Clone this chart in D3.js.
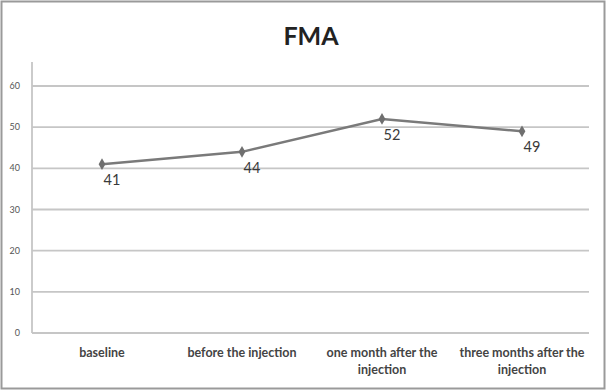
<!DOCTYPE html>
<html>
<head>
<meta charset="utf-8">
<script src="https://cdn.jsdelivr.net/npm/d3@7"></script>
<style>
  body { margin: 0; background: #fff; }
  text { font-family: Lato, "Open Sans", sans-serif; }
</style>
</head>
<body>
<svg id="chart" width="608" height="391"></svg>
<script>
const categories = [["baseline"], ["before the injection"], ["one month after the", "injection"], ["three months after the", "injection"]];
const values = [41, 44, 52, 49];
const yTicks = [0, 10, 20, 30, 40, 50, 60];

const width = 608, height = 391;
const margin = { top: 62, right: 16, bottom: 58, left: 32 };
const innerWidth = width - margin.left - margin.right;
const innerHeight = height - margin.top - margin.bottom;

const svg = d3.select('#chart');

// outer frame
svg.append('rect').attr('x', 1.5).attr('y', 1.5).attr('width', width - 5).attr('height', height - 4)
  .attr('fill', '#fff').attr('stroke', '#9a9a9a').attr('stroke-width', 2);

svg.append('text').text('FMA').attr('x', 311).attr('y', 45)
  .attr('text-anchor', 'middle').attr('font-size', 25).attr('font-weight', 'bold').attr('fill', '#222');

const g = svg.append('g').attr('transform', `translate(${margin.left},${margin.top})`);

const xScale = d3.scaleBand().domain(d3.range(categories.length)).range([0, 560]);
const yScale = d3.scaleLinear().domain([0, 60]).range([innerHeight, 24]);

// gridlines
g.selectAll('.grid').data(yTicks).join('line').attr('class', 'grid')
  .attr('x1', 0).attr('x2', 557)
  .attr('y1', d => yScale(d)).attr('y2', d => yScale(d))
  .attr('stroke', '#c6c6c6').attr('stroke-width', 1.8);

// y axis line
g.append('line').attr('x1', 0).attr('x2', 0).attr('y1', 0).attr('y2', innerHeight)
  .attr('stroke', '#c6c6c6').attr('stroke-width', 1.8);

g.selectAll('.ytick').data(yTicks).join('text').attr('class', 'ytick')
  .attr('x', -12).attr('y', d => yScale(d) + 3)
  .attr('text-anchor', 'end').attr('font-size', 9).attr('fill', '#555')
  .text(d => d);

// category labels
const cat = g.selectAll('.cat').data(categories).join('text').attr('class', 'cat')
  .attr('text-anchor', 'middle').attr('font-size', 12.5).attr('font-weight', 'bold').attr('fill', '#444')
  .attr('transform', (d, i) => `translate(${xScale(i) + xScale.bandwidth() / 2},${innerHeight + 24})`);
cat.selectAll('tspan').data(d => d).join('tspan')
  .attr('x', 0).attr('dy', (d, i) => i === 0 ? 0 : 17).text(d => d);

// line
const cx = i => xScale(i) + xScale.bandwidth() / 2;
const line = d3.line().x((d, i) => cx(i)).y(d => yScale(d));
g.append('path').datum(values).attr('d', line)
  .attr('fill', 'none').attr('stroke', '#7a7a7a').attr('stroke-width', 2.5);

g.selectAll('.marker').data(values).join('path').attr('class', 'marker')
  .attr('d', d3.symbol(d3.symbolDiamond, 40))
  .attr('transform', (d, i) => `translate(${cx(i)},${yScale(d)})`)
  .attr('fill', '#6f6f6f');

g.selectAll('.lbl').data(values).join('text').attr('class', 'lbl')
  .attr('x', (d, i) => cx(i) + 10).attr('y', d => yScale(d) + 21)
  .attr('text-anchor', 'middle').attr('font-size', 14.5).attr('fill', '#3a3a3a')
  .text(d => d);
</script>
</body>
</html>
